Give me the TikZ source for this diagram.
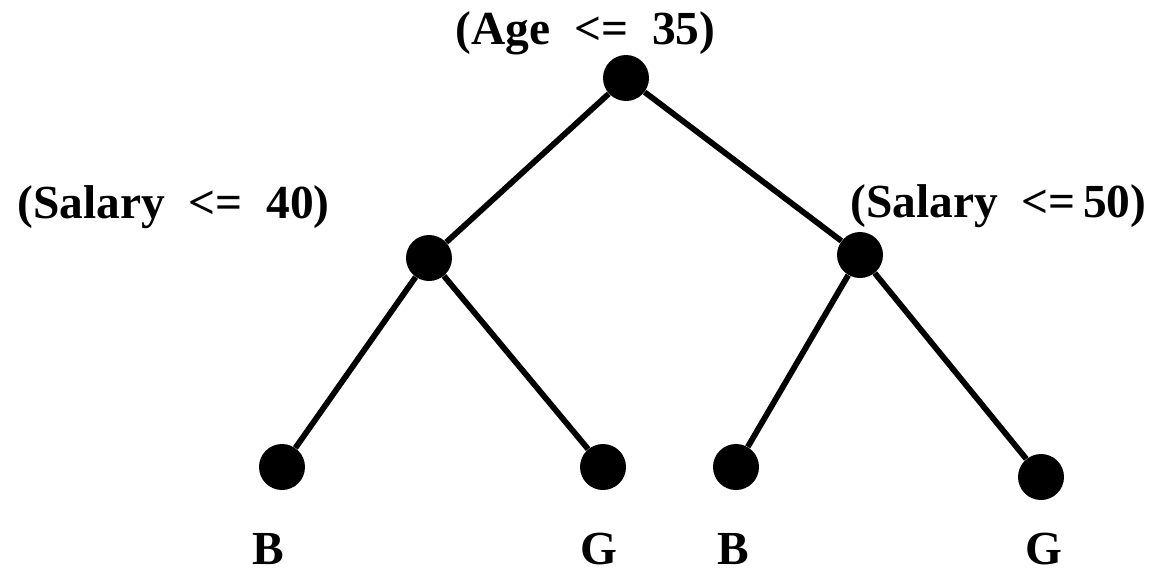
\documentclass[tikz,border=0pt]{standalone}
\usepackage{fontspec}
\newfontfamily\lblfont{Liberation Serif}
\begin{document}
\begin{tikzpicture}[x=0.02cm,y=-0.02cm,
  dot/.style={circle,fill=black,minimum size=0.92cm,inner sep=0pt},
  branch/.style={line width=3.3pt},
  lbl/.style={anchor=base,inner sep=0pt,font=\lblfont\bfseries\fontsize{27}{32}\selectfont}]
\useasboundingbox (0,0) rectangle (1170,569);
\node[dot] (r) at (626,78) {};
\node[dot] (l) at (429,258) {};
\node[dot] (m) at (860,255) {};
\node[dot] (l1) at (282,467) {};
\node[dot] (l2) at (603,467) {};
\node[dot] (r1) at (736,467) {};
\node[dot] (r2) at (1041,477) {};
\draw[branch] (r) -- (l);
\draw[branch] (r) -- (m);
\draw[branch] (l) -- (l1);
\draw[branch] (l) -- (l2);
\draw[branch] (m) -- (r1);
\draw[branch] (m) -- (r2);
\node[lbl] (tr) at (585.5,44) {(Age~~<=~~35)};
\node[lbl] (tl) at (173.5,218) {(Salary~~<=~~40)};
\node[lbl] (tm) at (998.5,217) {(Salary~~<=\kern0.15em 50)};
\node[lbl] (b1) at (268,564) {B};
\node[lbl] (g1) at (598.5,564) {G};
\node[lbl] (b2) at (733,564) {B};
\node[lbl] (g2) at (1044,564) {G};
\end{tikzpicture}
\end{document}
